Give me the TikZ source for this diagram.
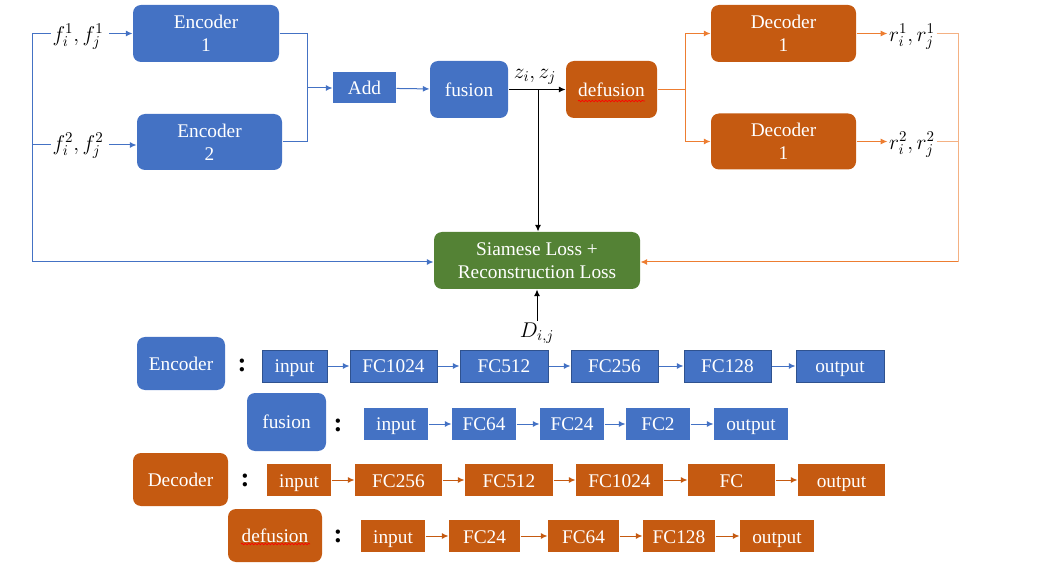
\RequirePackage{fix-cm}
\documentclass[tikz,border=0pt]{standalone}
\usepackage{fontspec}
\setmainfont{Liberation Serif}
\usetikzlibrary{arrows.meta, decorations.pathmorphing}
\definecolor{encblue}{HTML}{4472C4}
\definecolor{encedge}{HTML}{2F528F}
\definecolor{decorange}{HTML}{C55A11}
\definecolor{lineorange}{HTML}{ED7D31}
\definecolor{peach}{HTML}{F4B183}
\definecolor{lossgreen}{HTML}{548235}
\begin{document}
\begin{tikzpicture}[x=0.75pt, y=-0.75pt, >={Latex[length=5pt,width=4.5pt]}, line width=0.75pt,
		font=\fontsize{14.5}{17.5}\selectfont,
		sz/.style 2 args={minimum width=#1*0.75pt, minimum height=#2*0.75pt},
		rbox/.style={rounded corners=6pt, inner sep=0pt, text=white, align=center},
		enc/.style={rbox, fill=encblue},
		dec/.style={rbox, fill=decorange},
		lyr/.style={inner sep=0pt, text=white, text height=13pt, text depth=2.5pt, minimum height=32*0.75pt},
		lbl/.style={inner sep=1pt, font=\fontsize{16}{18}\selectfont},
		colon/.style={font=\fontsize{20}{20}\bfseries\selectfont},
		wavy/.style={red, line width=0.5pt, decorate, decoration={snake, amplitude=0.6pt, segment length=2.5pt}}]
	\useasboundingbox (0,0) rectangle (1040,574);
	% top part
	\node [enc, sz={146}{57}] (enc1) at (206,33.5) {Encoder\\1};
	\node [enc, sz={145}{56}] (enc2) at (209.5,142) {Encoder\\2};
	\node [lbl] (f1) at (78,37) {$f_i^1,f_j^1$};
	\node [lbl] (f2) at (78,146) {$f_i^2,f_j^2$};
	\node [inner sep=0pt, fill=encblue, text=white, sz={63}{31}] (add) at (364.5,88) {Add};
	\node [enc, sz={78}{57}] (fus) at (469,89.5) {fusion};
	\node [dec, sz={91}{57}] (defus) at (611.5,89.5) {defusion};
	\node [lbl] (z) at (535,77) {$z_i,z_j$};
	\node [dec, sz={145}{57}] (dec1) at (783.5,33.5) {Decoder\\1};
	\node [dec, sz={145}{56}] (dec2) at (783.5,141.5) {Decoder\\1};
	\node [lbl] (r1) at (912,37) {$r_i^1,r_j^1$};
	\node [lbl] (r2) at (912,145) {$r_i^2,r_j^2$};
	\node [rbox, fill=lossgreen, sz={206}{57}] (loss) at (537,260.5) {Siamese Loss +\\Reconstruction Loss};
	\node [lbl] (D) at (537,333) {$D_{i,j}$};
	\draw [wavy] (578,101) -- (645,101);
	\coordinate (lft) at (32,262);
	\coordinate (jn) at (307,88);
	\coordinate (zd) at (538,90);
	\coordinate (sp) at (685,90);
	\coordinate (rt) at (958,262);
	\begin{scope}[encblue]
		\draw [->] (f1.west |- enc1.west) -| (lft) -- (lft -| loss.west);
		\draw (f2.west |- 0,145) -- (lft |- 0,145);
		\draw [->] ([xshift=3pt]f1.east |- enc1.west) -- (enc1.west);
		\draw [->] ([xshift=3pt]f2.east |- 0,145) -- (enc2.west |- 0,145);
		\draw (enc1.east) -| (jn);
		\draw (enc2.east) -| (jn);
		\draw [->] (jn) -- (add);
		\draw [->] (add) -- (fus);
	\end{scope}
	\draw [->] (fus) -- (defus);
	\draw [->] (zd) -- (zd |- loss.north);
	\draw [->] (D.north) -- (loss);
	\begin{scope}[lineorange]
		\draw (defus.east |- sp) -- (sp);
		\draw [->] (sp) |- (dec1.west);
		\draw [->] (sp) |- (dec2.west);
		\draw [->] (dec1.east) -- (dec1.east -| r1.west);
		\draw [->] (dec2.east) -- (dec2.east -| r2.west);
	\end{scope}
	\draw [peach] (r1.east |- dec1.east) -| (rt);
	\draw [peach] (r2.east |- dec2.east) -- (rt |- dec2.east);
	\draw [->, lineorange] (rt) -- (rt -| loss.east);
	% layer legend
	\node [enc, sz={88}{53}] (lenc) at (181,363.5) {Encoder};
	\node [enc, sz={79}{58}] (lfus) at (286.5,422) {fusion};
	\node [dec, sz={95}{53}] (ldec) at (180.5,479.5) {Decoder};
	\node [dec, sz={94}{53}] (ldefus) at (275,535.5) {defusion};
	\draw [wavy] (241,544) -- (310,544);
	\node [colon] (c1) at (242,365) {:};
	\node [colon] (c2) at (338,425) {:};
	\node [colon] (c3) at (245,480) {:};
	\node [colon] (c4) at (338,536) {:};
	\foreach \t/\a/\b [count=\k] in {input/262/327, FC1024/350/437, FC512/460/548, FC256/571/658, FC128/684/771, output/796/884}
		\node [lyr, fill=encblue, draw=encedge, minimum width={(\b-\a)*0.75pt}] (e\k) at ({(\a+\b)/2},366) {\t};
	\foreach \t/\a/\b [count=\k] in {input/364/428, FC64/452/516, FC24/540/604, FC2/626/690, output/714/788}
		\node [lyr, fill=encblue, minimum width={(\b-\a)*0.75pt}] (u\k) at ({(\a+\b)/2},424) {\t};
	\foreach \t/\a/\b [count=\k] in {input/267/331, FC256/355/442, FC512/465/553, FC1024/576/663, FC/688/775, output/798/885}
		\node [lyr, fill=decorange, minimum width={(\b-\a)*0.75pt}] (d\k) at ({(\a+\b)/2},480) {\t};
	\foreach \t/\a/\b [count=\k] in {input/361/425, FC24/449/520, FC64/548/619, FC128/643/715, output/740/814}
		\node [lyr, fill=decorange, minimum width={(\b-\a)*0.75pt}] (v\k) at ({(\a+\b)/2},536) {\t};
	\foreach \k [evaluate=\k as \n using int(\k+1)] in {1,...,5}
		{
			\draw [->, encblue] (e\k) -- (e\n);
			\draw [->, decorange] (d\k) -- (d\n);
		}
	\foreach \k [evaluate=\k as \n using int(\k+1)] in {1,...,4}
		{
			\draw [->, encblue] (u\k) -- (u\n);
			\draw [->, decorange] (v\k) -- (v\n);
		}
\end{tikzpicture}
\end{document}
